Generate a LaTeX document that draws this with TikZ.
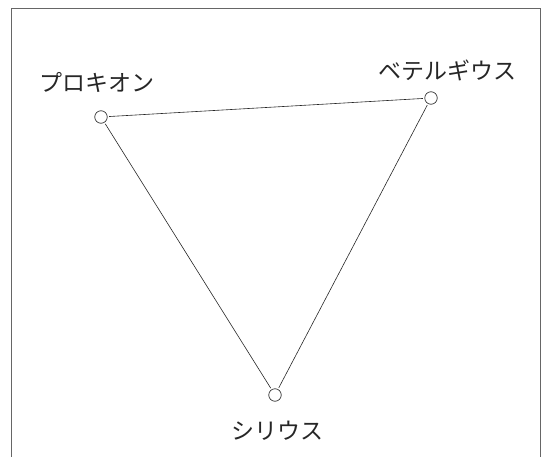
\documentclass[tikz,border=0pt]{standalone}
\usepackage{fontspec}
\newfontfamily\jpfont{Noto Sans CJK JP}
\begin{document}
\begin{tikzpicture}[
  x=1pt, y=-1pt,
  frame/.style={draw=black!60, line width=1pt},
  pt/.style={draw=black!80, circle, line width=0.7pt, minimum size=12.5pt, inner sep=0pt},
  lab/.style={font=\jpfont\fontsize{23}{27}\selectfont, text=black!85, inner sep=0pt},
  link/.style={draw=black!85, line width=0.6pt, shorten <=1.5pt, shorten >=1.5pt}
]
\useasboundingbox (0,0) rectangle (543,457);
\draw[frame] (11,457) |- (540,9) -- (540,457);
\node[pt] (procyon) at (101,117) {};
\node[pt] (betel) at (431,98) {};
\node[pt] (sirius) at (275,395) {};
\node[lab] (procyonlab) at (97,82) {プロキオン};
\node[lab] (betellab) at (447,70) {ベテルギウス};
\node[lab] (siriuslab) at (277,431) {シリウス};
\draw[link] (procyon) -- (betel);
\draw[link] (procyon) -- (sirius);
\draw[link] (betel) -- (sirius);
\end{tikzpicture}
\end{document}
